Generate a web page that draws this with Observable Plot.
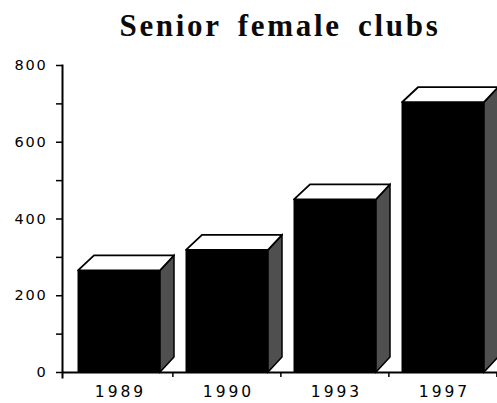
<!DOCTYPE html>
<html>
<head>
<meta charset="utf-8">
<script src="https://cdn.jsdelivr.net/npm/d3@7"></script>
<script src="https://cdn.jsdelivr.net/npm/@observablehq/plot@0.6"></script>
<style>
  html, body { margin: 0; padding: 0; background: #fff; }
  #wrap { width: 497px; height: 403px; overflow: hidden; }
  #title { height: 50px; box-sizing: border-box; padding-top: 6px; padding-left: 63px; text-align: center;
    font-family: "Liberation Serif", "Times New Roman", serif; font-weight: bold; font-size: 31px;
    line-height: 40px; word-spacing: 6px; letter-spacing: 2.7px; color: #0a0a0a; white-space: nowrap; }
  svg text { letter-spacing: 1.8px; font-family: "DejaVu Sans", sans-serif; }
  svg .xlab text { letter-spacing: 3px; }
</style>
</head>
<body>
<div id="wrap">
  <div id="title">Senior female clubs</div>
  <div id="chart"></div>
</div>
<script>
const years = ["1989", "1990", "1993", "1997"];
const clubs = [265, 318, 450, 703];
const yTicks = [0, 100, 200, 300, 400, 500, 600, 700, 800];
const yLabels = [0, 200, 400, 600, 800];

const data = years.map((year, i) => ({year, clubs: clubs[i]}));
const depthX = 14, depthY = 15;
const bw = (497 - 62) / years.length;

function solid(index, scales, values, dimensions, context, next) {
  const g = next(index, scales, values, dimensions, context);
  const ns = "http://www.w3.org/2000/svg";
  const rects = Array.from(g.querySelectorAll("rect"));
  for (const r of rects) {
    const x0 = +r.getAttribute("x"), w = +r.getAttribute("width");
    const yt = +r.getAttribute("y"), h = +r.getAttribute("height");
    const x1 = x0 + w, yb = yt + h;
    const lid = document.createElementNS(ns, "polygon");
    lid.setAttribute("points", `${x0},${yt} ${x1},${yt} ${x1 + depthX},${yt - depthY} ${x0 + depthX + 2},${yt - depthY}`);
    lid.setAttribute("fill", "#fff");
    lid.setAttribute("stroke", "#000");
    lid.setAttribute("stroke-width", "1.8");
    lid.setAttribute("stroke-linejoin", "round");
    const side = document.createElementNS(ns, "polygon");
    side.setAttribute("points", `${x1},${yt} ${x1 + depthX},${yt - depthY} ${x1 + depthX},${yb - depthY} ${x1},${yb}`);
    side.setAttribute("fill", "#4f4f4f");
    side.setAttribute("stroke", "#000");
    side.setAttribute("stroke-width", "1.5");
    g.appendChild(side);
    g.appendChild(lid);
  }
  return g;
}

const chart = Plot.plot({
  width: 497,
  height: 353,
  marginLeft: 62,
  marginRight: 0,
  marginTop: 15,
  marginBottom: 31,
  style: {fontFamily: "DejaVu Sans", fontSize: "14px", color: "#000", background: "transparent", overflow: "visible"},
  x: {domain: years, padding: 0, axis: null},
  y: {domain: [0, 800], axis: null},
  marks: [
    Plot.barY(data, {x: "year", y: "clubs", fill: "#000", stroke: "#000", strokeWidth: 1, insetLeft: 14, insetRight: 12, render: solid}),
    Plot.ruleY([0], {stroke: "#000", strokeWidth: 2}),
    Plot.ruleX(years, {x: d => d, dx: bw / 2, y1: 0, y2: 0, insetBottom: -5, stroke: "#000", strokeWidth: 1.5}),
    Plot.frame({anchor: "left", stroke: "#000", strokeWidth: 2, insetBottom: -5}),
    Plot.axisY({ticks: yTicks, tickSize: 6, tickPadding: 9, strokeWidth: 1.5, label: null, fontSize: 14.5,
      tickFormat: d => yLabels.includes(d) ? String(d) : ""}),
    Plot.text(data, {x: "year", text: "year", frameAnchor: "bottom", dy: 24, dx: 2, fontSize: 15.5, className: "xlab", fill: "#000"})
  ]
});
document.getElementById("chart").appendChild(chart);
</script>
</body>
</html>
